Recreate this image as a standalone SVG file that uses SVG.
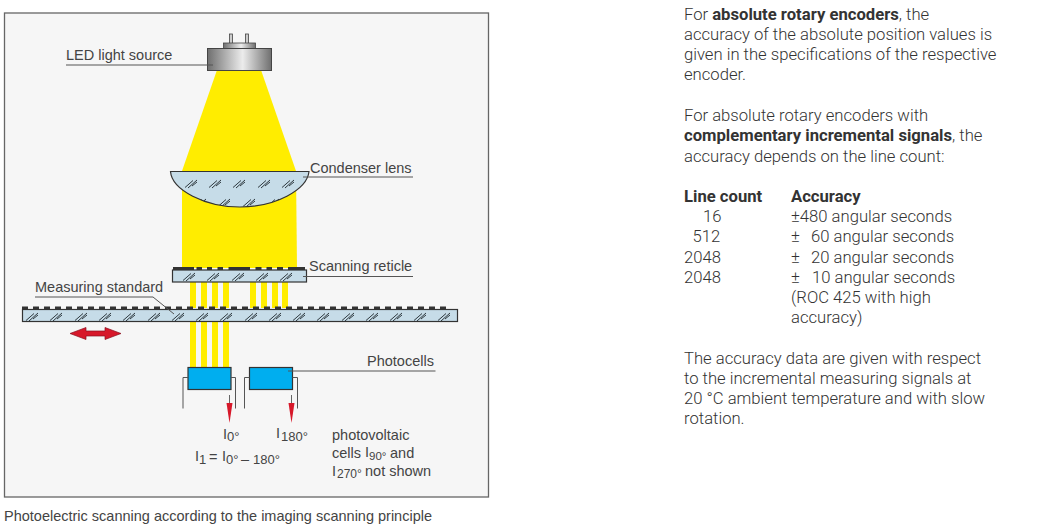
<svg xmlns="http://www.w3.org/2000/svg" width="1054" height="530" viewBox="0 0 1054 530">
<defs>
<linearGradient id="metal" x1="0" x2="1" y1="0" y2="0">
<stop offset="0" stop-color="#6f6f6f"/><stop offset="0.55" stop-color="#ececec"/><stop offset="1" stop-color="#6f6f6f"/>
</linearGradient>
<g id="h"><path d="M0 9.500L8 2.500M3 10L12 2M7 8L12 4" fill="none" stroke="#2f3a40" stroke-width="1"/></g>
<clipPath id="lensclip"><path d="M170.500 171.500H309C307 190 275 207 240 207C205 207 172 190 170.500 171.500Z"/></clipPath>
</defs>
<style>
text{font-family:"Liberation Sans",Arial,sans-serif;fill:#444}
.l{font-size:14.5px}
.sub{font-size:13px}
.r{font-family:Roboto,"Liberation Sans",sans-serif;font-size:16.65px;font-weight:300;fill:#333}
.b{font-weight:700}
.glass{fill:#c6dce8;stroke:#333;stroke-width:1.2}
.lead{fill:none;stroke:#555;stroke-width:1}
.y{fill:#ffed00}
.cell{fill:#00aeef;stroke:#333;stroke-width:1.2}
.dash{fill:none;stroke:#333;stroke-width:2.8}
.red{fill:#d7182a}
</style>
<rect width="1054" height="530" fill="#fff"/>
<rect id="frame" x="4.500" y="13" width="484" height="484" fill="#f6f6f6" stroke="#666" stroke-width="1.300"/>
<g id="beams">
<path class="y" d="M217 70H261L296 171L297 268H182V171Z"/>
<path class="y" d="M190 282h6v26h-6zM201 282h6v26h-6zM212 282h6v26h-6zM223 282h6v26h-6zM250 282h6v26h-6zM261 282h6v26h-6zM272 282h6v26h-6zM282 282h6v26h-6z"/>
<path class="y" d="M190 321h6v46h-6zM201 321h6v46h-6zM212 321h6v46h-6zM223 321h6v46h-6z"/>
</g>
<g id="led">
<rect x="229.500" y="34" width="3" height="10" fill="#ccc" stroke="#444" stroke-width="0.8"/>
<rect x="245.500" y="34" width="3" height="10" fill="#ccc" stroke="#444" stroke-width="0.8"/>
<rect x="223.500" y="43" width="32" height="6" fill="url(#metal)" stroke="#444" stroke-width="0.8"/>
<rect x="207.500" y="48.500" width="64" height="22" fill="url(#metal)" stroke="#444" stroke-width="1"/>
<text class="l" x="66" y="60">LED light source</text>
<path class="lead" d="M66 65H213"/>
</g>
<g id="lens">
<path class="glass" d="M170.500 171.500H309C307 190 275 207 240 207C205 207 172 190 170.500 171.500Z"/>
<use href="#h" x="185" y="178"/><use href="#h" x="209" y="178"/><use href="#h" x="233" y="178"/><use href="#h" x="258" y="178"/><use href="#h" x="282" y="178"/>
<g clip-path="url(#lensclip)"><use href="#h" x="194" y="197"/><use href="#h" x="218" y="197"/><use href="#h" x="243" y="197"/><use href="#h" x="267" y="197"/></g>
<text class="l" x="310" y="173">Condenser lens</text>
<path class="lead" d="M303 177H413"/>
</g>
<g id="reticle">
<rect class="glass" x="172.500" y="270" width="134" height="12"/>
<path class="dash" d="M173 268.500H194M196.500 268.500H202M207 268.500H212M217.500 268.500H223M228.500 268.500H250M255.500 268.500H261.500M266.500 268.500H272M277 268.500H283M288 268.500H305"/>
<use href="#h" x="183" y="271"/><use href="#h" x="207" y="271"/><use href="#h" x="232" y="271"/><use href="#h" x="256" y="271"/><use href="#h" x="280" y="271"/>
<text class="l" x="309" y="271">Scanning reticle</text>
<path class="lead" d="M303 276.500H413"/>
</g>
<g id="scale">
<rect class="glass" x="22.500" y="309.500" width="435" height="12"/>
<path class="dash" stroke-dasharray="6 5" d="M22 308H451"/>
<use href="#h" x="26" y="311"/><use href="#h" x="50" y="311"/><use href="#h" x="75" y="311"/><use href="#h" x="99" y="311"/><use href="#h" x="123" y="311"/><use href="#h" x="148" y="311"/><use href="#h" x="172" y="311"/><use href="#h" x="196" y="311"/><use href="#h" x="220" y="311"/><use href="#h" x="245" y="311"/><use href="#h" x="269" y="311"/><use href="#h" x="293" y="311"/><use href="#h" x="317" y="311"/><use href="#h" x="342" y="311"/><use href="#h" x="366" y="311"/><use href="#h" x="390" y="311"/><use href="#h" x="414" y="311"/><use href="#h" x="438" y="311"/>
<text class="l" x="35" y="292">Measuring standard</text>
<path class="lead" d="M35 297H153L174 314"/>
<path d="M70 333.500L86 327.500V331H105V327.500L121 333.500L105 339.500V336H86V339.500Z" fill="#d7182a" stroke="#8a1020" stroke-width="0.7"/>
</g>
<g id="photocells">
<rect class="cell" x="188" y="367.500" width="43" height="22"/>
<rect class="cell" x="249.500" y="367.500" width="43" height="22"/>
<path class="lead" d="M183 408.500V377.500H188M231 377.500H235.500V408.500M244.500 408.500V377.500H249.500M292.500 377.500H297.500V408.500"/>
<text class="l" x="367" y="366">Photocells</text>
<path class="lead" d="M288 371H435.500" stroke="#777"/>
</g>
<g id="connectors">
<path d="M229.500 395V408" stroke="#666" stroke-width="1" fill="none"/>
<path class="red" d="M226.500 403H232.500L229.500 423Z"/>
<path d="M291.500 395V408" stroke="#666" stroke-width="1" fill="none"/>
<path class="red" d="M288.500 403H294.500L291.500 423Z"/>
</g>
<g id="labels">
<text class="l" x="223" y="439">I<tspan class="sub" x="227" y="441">0°</tspan></text>
<text class="l" x="276" y="438">I<tspan class="sub" x="281" y="441">180°</tspan></text>
<text class="l" x="195" y="461">I<tspan class="sub" x="199" y="464">1</tspan><tspan x="209" y="462">=</tspan><tspan x="222" y="461">I</tspan><tspan class="sub" x="226" y="464">0°</tspan><tspan x="241" y="464">–</tspan><tspan class="sub" x="253" y="464">180°</tspan></text>
<text class="l" x="332" y="440">photovoltaic</text>
<text class="l" x="332" y="458">cells<tspan x="365" y="457">I</tspan><tspan font-size="11.500" x="369" y="460">90°</tspan><tspan x="390" y="458">and</tspan></text>
<text class="l" x="332" y="476">I<tspan font-size="12" x="337" y="478">270°</tspan><tspan x="365" y="476">not shown</tspan></text>
</g>
<text class="l" x="4" y="521">Photoelectric scanning according to the imaging scanning principle</text>
<g id="body">
<text class="r" x="684" y="20">For <tspan class="b">absolute rotary encoders</tspan>, the</text>
<text class="r" x="684" y="40">accuracy of the absolute position values is</text>
<text class="r" x="684" y="60">given in the specifications of the respective</text>
<text class="r" x="684" y="80">encoder.</text>
<text class="r" x="684" y="121">For absolute rotary encoders with</text>
<text class="r" x="684" y="141"><tspan class="b">complementary incremental signals</tspan>, the</text>
<text class="r" x="684" y="162">accuracy depends on the line count:</text>
<text class="r b" x="684" y="202">Line count</text>
<text class="r b" x="791" y="202">Accuracy</text>
<text class="r" x="703" y="222">16</text><text class="r" x="791" y="222">±480 angular seconds</text>
<text class="r" x="692.500" y="242">512</text><text class="r" x="791" y="242">±<tspan x="811">60 angular seconds</tspan></text>
<text class="r" x="684" y="263">2048</text><text class="r" x="791" y="263">±<tspan x="811">20 angular seconds</tspan></text>
<text class="r" x="684" y="283">2048</text><text class="r" x="791" y="283">±<tspan x="812">10 angular seconds</tspan></text>
<text class="r" x="791" y="303">(ROC 425 with high</text>
<text class="r" x="791" y="323">accuracy)</text>
<text class="r" x="684" y="364">The accuracy data are given with respect</text>
<text class="r" x="684" y="384">to the incremental measuring signals at</text>
<text class="r" x="684" y="404">20 °C ambient temperature and with slow</text>
<text class="r" x="684" y="424">rotation.</text>
</g>
</svg>
